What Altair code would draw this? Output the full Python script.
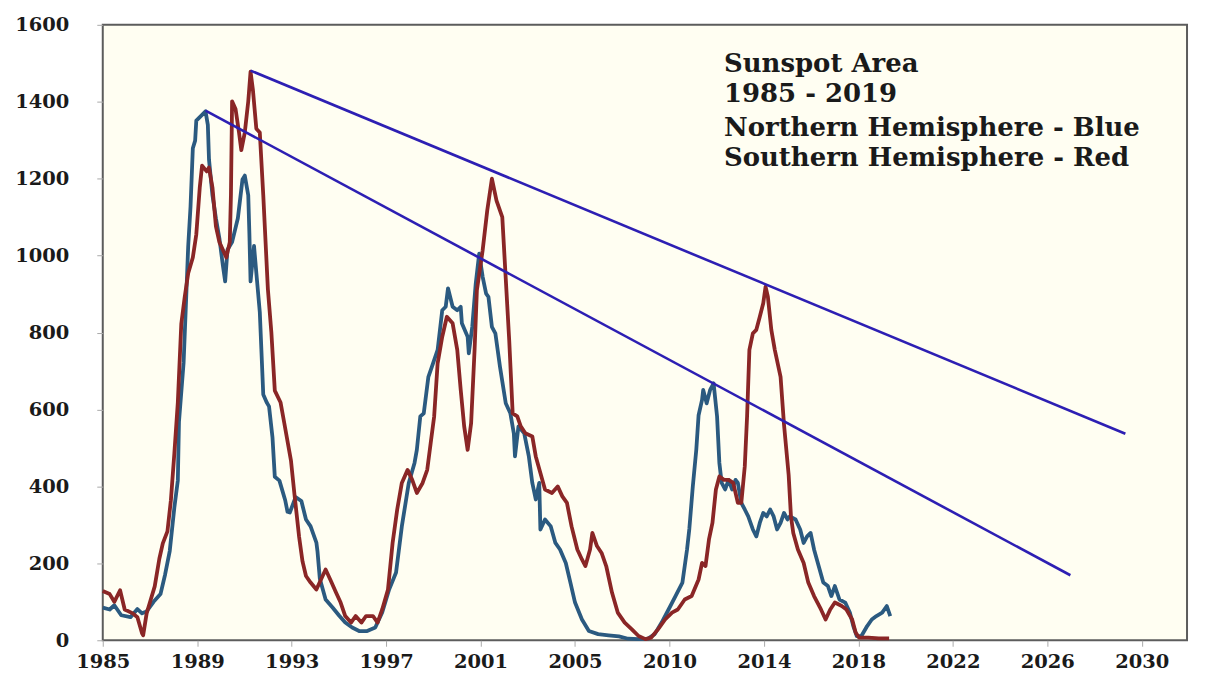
import altair as alt
import pandas as pd

# ---------------- data ----------------
north_years = [1985.0, 1985.3, 1985.5, 1985.8, 1986.2, 1986.5, 1986.7, 1986.9, 1987.2, 1987.5,
               1987.7, 1987.9, 1988.1, 1988.25, 1988.3, 1988.5, 1988.6, 1988.7, 1988.8, 1988.9,
               1989.0, 1989.05, 1989.3, 1989.45, 1989.55, 1989.6, 1989.75, 1989.9, 1990.05, 1990.2,
               1990.3, 1990.4, 1990.6, 1990.85, 1991.05, 1991.15, 1991.3, 1991.35, 1991.4, 1991.55,
               1991.65, 1991.8, 1991.95, 1992.1, 1992.2, 1992.35, 1992.45, 1992.65, 1992.9, 1993.0,
               1993.1, 1993.35, 1993.6, 1993.8, 1994.0, 1994.25, 1994.3, 1994.4, 1994.65, 1994.95,
               1995.25, 1995.5, 1995.8, 1996.1, 1996.45, 1996.8, 1997.1, 1997.4, 1997.7, 1997.95,
               1998.25, 1998.5, 1998.6, 1998.75, 1998.9, 1999.1, 1999.25, 1999.5, 1999.7, 1999.85,
               1999.95, 2000.15, 2000.35, 2000.5, 2000.55, 2000.8, 2000.85, 2001.0, 2001.15, 2001.3,
               2001.45, 2001.6, 2001.7, 2001.85, 2002.0, 2002.2, 2002.45, 2002.65, 2002.8, 2002.85,
               2003.0, 2003.25, 2003.45, 2003.6, 2003.75, 2003.9, 2003.95, 2004.15, 2004.4, 2004.6,
               2004.8, 2005.05, 2005.25, 2005.45, 2005.75, 2006.05, 2006.45, 2006.9, 2007.35, 2007.75,
               2008.2, 2008.6, 2008.9, 2009.2, 2009.5, 2009.8, 2010.1, 2010.3, 2010.4, 2010.55,
               2010.7, 2010.8, 2010.95, 2011.0, 2011.15, 2011.3, 2011.45, 2011.6, 2011.7, 2011.8,
               2011.95, 2012.1, 2012.25, 2012.4, 2012.5, 2012.65, 2012.8, 2012.95, 2013.15, 2013.3,
               2013.45, 2013.6, 2013.75, 2013.9, 2014.05, 2014.2, 2014.35, 2014.5, 2014.65, 2014.75,
               2015.0, 2015.2, 2015.35, 2015.5, 2015.65, 2015.8, 2016.0, 2016.2, 2016.4, 2016.55,
               2016.7, 2016.9, 2017.15, 2017.35, 2017.5, 2017.65, 2017.85, 2018.1, 2018.3, 2018.5,
               2018.75, 2018.95, 2019.1]
north_area = [85, 80, 91, 65, 60, 81, 70, 75, 100, 120,
              171, 232, 345, 415, 568, 721, 872, 1025, 1127, 1279,
              1299, 1351, 1366, 1375, 1340, 1250, 1157, 1097, 1045, 975,
              933, 1015, 1035, 1097, 1198, 1208, 1157, 1055, 933, 1025,
              955, 853, 639, 618, 608, 527, 425, 415, 364, 334,
              332, 372, 362, 314, 296, 254, 230, 160, 106, 85,
              63, 46, 33, 24, 24, 33, 72, 132, 176, 296,
              409, 461, 495, 582, 590, 685, 711, 755, 858, 867,
              915, 867, 858, 867, 824, 789, 746, 815, 927, 1005,
              945, 901, 893, 815, 798, 711, 616, 590, 538, 478,
              556, 538, 478, 409, 366, 409, 288, 314, 296, 253,
              236, 201, 150, 98, 54, 24, 16, 13, 10, 4,
              3, 4, 16, 46, 80, 115, 150, 236, 290, 400,
              495, 585, 625, 651, 616, 651, 668, 582, 461, 409,
              392, 417, 392, 417, 409, 357, 340, 322, 288, 270,
              305, 331, 322, 340, 322, 288, 305, 331, 314, 322,
              314, 288, 253, 270, 279, 236, 193, 150, 141, 115,
              141, 106, 98, 72, 37, 11, 11, 37, 54, 63,
              72, 89, 63]

south_years = [1985.0, 1985.3, 1985.5, 1985.75, 1985.95, 1986.3, 1986.5, 1986.7, 1986.75, 1986.9,
               1987.05, 1987.25, 1987.45, 1987.6, 1987.8, 1987.95, 1988.1, 1988.25, 1988.4, 1988.55,
               1988.7, 1988.9, 1989.05, 1989.2, 1989.3, 1989.5, 1989.6, 1989.75, 1989.9, 1990.05,
               1990.2, 1990.35, 1990.5, 1990.55, 1990.6, 1990.75, 1990.9, 1991.0, 1991.15, 1991.3,
               1991.4, 1991.5, 1991.65, 1991.8, 1991.95, 1992.15, 1992.3, 1992.45, 1992.7, 1992.85,
               1993.15, 1993.3, 1993.5, 1993.65, 1993.8, 1994.0, 1994.25, 1994.45, 1994.65, 1994.85,
               1995.1, 1995.3, 1995.5, 1995.75, 1995.95, 1996.2, 1996.4, 1996.7, 1996.9, 1997.1,
               1997.35, 1997.55, 1997.75, 1997.95, 1998.2, 1998.4, 1998.6, 1998.85, 1999.05, 1999.2,
               1999.35, 1999.5, 1999.7, 1999.9, 2000.15, 2000.35, 2000.5, 2000.65, 2000.8, 2000.95,
               2001.1, 2001.2, 2001.45, 2001.65, 2001.85, 2002.05, 2002.3, 2002.45, 2002.6, 2002.75,
               2002.95, 2003.1, 2003.3, 2003.6, 2003.75, 2003.95, 2004.15, 2004.45, 2004.7, 2004.9,
               2005.1, 2005.3, 2005.55, 2005.75, 2005.9, 2006.1, 2006.2, 2006.4, 2006.6, 2006.8,
               2007.05, 2007.3, 2007.6, 2007.9, 2008.2, 2008.5, 2008.75, 2009.05, 2009.35, 2009.65,
               2009.9, 2010.2, 2010.5, 2010.8, 2010.95, 2011.1, 2011.25, 2011.4, 2011.55, 2011.7,
               2011.9, 2012.1, 2012.3, 2012.5, 2012.65, 2012.8, 2012.9, 2013.0, 2013.15, 2013.3,
               2013.45, 2013.6, 2013.7, 2013.8, 2013.95, 2014.1, 2014.35, 2014.5, 2014.7, 2014.8,
               2014.9, 2015.1, 2015.35, 2015.55, 2015.8, 2016.1, 2016.3, 2016.5, 2016.7, 2017.0,
               2017.2, 2017.45, 2017.6, 2017.75, 2018.15, 2018.6, 2019.05]
south_area = [128, 120, 100, 130, 80, 70, 60, 18, 13, 70,
              100, 140, 212, 252, 283, 364, 486, 618, 822, 893,
              954, 995, 1055, 1177, 1234, 1219, 1229, 1177, 1076, 1035,
              1015, 995, 1035, 1157, 1401, 1381, 1320, 1274, 1320, 1401,
              1478, 1432, 1330, 1320, 1157, 913, 801, 649, 618, 568,
              467, 380, 270, 205, 167, 150, 132, 158, 184, 158,
              124, 98, 63, 46, 63, 46, 63, 63, 46, 80,
              132, 253, 340, 409, 443, 417, 383, 409, 443, 513,
              582, 720, 789, 841, 824, 755, 651, 556, 495, 564,
              755, 910, 1014, 1118, 1200, 1143, 1100, 940, 780, 590,
              582, 556, 538, 530, 478, 435, 392, 383, 400, 374,
              357, 296, 236, 210, 193, 236, 279, 245, 227, 193,
              124, 72, 46, 29, 11, 3, 7, 29, 54, 72,
              80, 106, 115, 158, 201, 193, 262, 305, 392, 426,
              417, 417, 409, 357, 357, 452, 582, 755, 798, 807,
              841, 876, 919, 893, 807, 755, 685, 560, 430, 322,
              279, 236, 201, 150, 115, 80, 54, 80, 98, 89,
              80, 54, 20, 7, 7, 5, 5]

# hand-drawn trend lines (start / end points)
upper_trend_years = [1991.4, 2029.28]
upper_trend_area = [1481, 537]
lower_trend_years = [1989.45, 2026.9]
lower_trend_area = [1377, 169]

# axis tick labels
x_tick_labels = ["1985", "1989", "1993", "1997", "2001", "2005",
                 "2010", "2014", "2018", "2022", "2026", "2030"]
y_tick_values = [0, 200, 400, 600, 800, 1000, 1200, 1400, 1600]

# annotation text
note_lines = ["Sunspot Area", "1985 - 2019", "Northern Hemisphere  - Blue", "Southern Hemisphere - Red"]
note_year = [2011.9, 2011.9, 2011.9, 2011.9]
note_area = [1478, 1400, 1311, 1232]

# ---------------- build chart ----------------
X_START = 1985.0
X_END = 2031.95
TICK_STEP = 4.09
x_tick_positions = [X_START + i * TICK_STEP for i in range(len(x_tick_labels))]
label_array = "[" + ",".join("'%s'" % s for s in x_tick_labels) + "]"
label_expr = label_array + "[round((datum.value - %s) / %s)]" % (X_START, TICK_STEP)

FONT = "DejaVu Serif"

x_scale = alt.Scale(domain=[X_START, X_END], nice=False, zero=False)
y_scale = alt.Scale(domain=[0, 1600], nice=False)

x_axis = alt.Axis(values=x_tick_positions, labelExpr=label_expr, title=None, grid=False,
                  domain=False, ticks=True, tickSize=6, tickColor="#aaaaaa",
                  labelFont=FONT, labelFontWeight="bold", labelFontSize=19.5,
                  labelColor="#1a1a1a", labelPadding=6, labelFlush=False, labelOverlap=False)
y_axis = alt.Axis(values=y_tick_values, title=None, grid=False, domain=False,
                  tickSize=6, tickColor="#aaaaaa", labelFont=FONT, labelFontWeight="bold",
                  labelFontSize=19.5, labelColor="#1a1a1a", labelPadding=28, format="d")

def X():
    return alt.X("year:Q", scale=x_scale, axis=x_axis)

def Y():
    return alt.Y("area:Q", scale=y_scale, axis=y_axis)

series_df = pd.concat([
    pd.DataFrame({"year": north_years, "area": north_area, "series": "North"}),
    pd.DataFrame({"year": south_years, "area": south_area, "series": "South"}),
], ignore_index=True)

trend_df = pd.concat([
    pd.DataFrame({"year": upper_trend_years, "area": upper_trend_area, "line": "upper"}),
    pd.DataFrame({"year": lower_trend_years, "area": lower_trend_area, "line": "lower"}),
], ignore_index=True)

note_df = pd.DataFrame({"year": note_year, "area": note_area, "label": note_lines})

series = alt.Chart(series_df).mark_line(strokeWidth=3.8, strokeJoin="round").encode(
    x=X(), y=Y(),
    color=alt.Color("series:N", scale=alt.Scale(domain=["North", "South"],
                                                range=["#2b5a80", "#8a2626"]), legend=None),
    order=alt.Order("year:Q"),
)

trends = alt.Chart(trend_df).mark_line(strokeWidth=2.6, color="#2d1fb3").encode(
    x=X(), y=Y(), detail="line:N",
)

notes = alt.Chart(note_df).mark_text(align="left", baseline="alphabetic", font=FONT,
                                     fontWeight="bold", fontSize=26, color="#1a1a1a").encode(
    x=X(), y=Y(), text="label:N",
)

chart = alt.layer(series, trends, notes).properties(
    width=1087, height=617,
    autosize=alt.AutoSizeParams(type="none"),
    padding={"left": 95, "top": 16, "right": 10, "bottom": 48},
    background="#ffffff",
).configure_view(fill="#fffef2", stroke="#5c5c5c", strokeWidth=2)

chart.save("out.html", embed_options={"renderer": "svg", "actions": False})
